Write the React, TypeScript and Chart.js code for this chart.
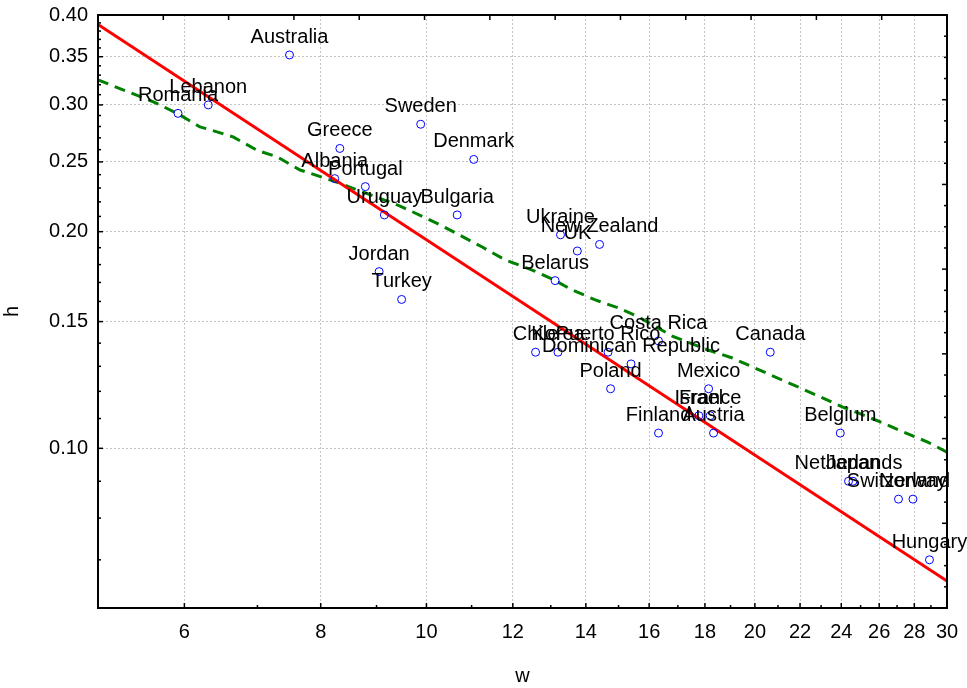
import React, { useEffect, useRef } from "react";
import { Chart, registerables } from "chart.js";

Chart.register(...registerables);

const countries = [
  "Romania", "Lebanon", "Australia", "Greece", "Albania", "Portugal", "Uruguay",
  "Sweden", "Denmark", "Bulgaria", "Jordan", "Turkey", "Ukraine", "UK",
  "New Zealand", "Belarus", "Chile", "Korea", "Puerto Rico", "Dominican Republic",
  "Costa Rica", "Poland", "Mexico", "Israel", "France", "Finland", "Austria",
  "Canada", "Belgium", "Netherlands", "Japan", "Switzerland", "Norway", "Hungary",
];
const wValues = [
  5.92, 6.31, 7.49, 8.33, 8.24, 8.79, 9.15,
  9.88, 11.05, 10.67, 9.05, 9.49, 13.27, 13.75,
  14.41, 13.12, 12.59, 13.2, 14.67, 15.4,
  16.32, 14.75, 18.14, 17.77, 18.2, 16.32, 18.33,
  20.66, 23.95, 24.37, 24.6, 27.08, 27.92, 28.91,
];
const hValues = [
  0.292, 0.300, 0.352, 0.261, 0.237, 0.231, 0.211,
  0.282, 0.252, 0.211, 0.176, 0.161, 0.198, 0.188,
  0.192, 0.171, 0.136, 0.136, 0.136, 0.131,
  0.141, 0.121, 0.121, 0.111, 0.111, 0.105, 0.105,
  0.136, 0.105, 0.090, 0.090, 0.085, 0.085, 0.070,
];

const fitW = [5, 30];
const fitH = [0.388, 0.0654];

const smoothW = [
  5.0, 5.62, 5.91, 6.2, 6.34, 6.65, 7.0, 7.3, 7.66, 8.22, 9.46, 10.3, 11.25, 11.81,
  12.5, 13.04, 13.6, 14.28, 14.99, 15.64, 16.8, 18.01, 19.07, 21.19, 22.01, 22.96,
  24.05, 24.87, 26.06, 27.35, 28.77, 30.0,
];
const smoothH = [
  0.325, 0.303, 0.292, 0.2796, 0.277, 0.2708, 0.2593, 0.254, 0.2436, 0.2352, 0.2171,
  0.2043, 0.1904, 0.1827, 0.1769, 0.1719, 0.166, 0.1608, 0.1567, 0.1523, 0.1432,
  0.1374, 0.1335, 0.1244, 0.1213, 0.1179, 0.1142, 0.112, 0.1088, 0.1054, 0.1021, 0.0988,
];

const xTickValues = [6, 8, 10, 12, 14, 16, 18, 20, 22, 24, 26, 28, 30];
const xMinorValues = [7, 9, 11, 13, 15, 17, 19, 21, 23, 25, 27, 29];
const yTickValues = [0.1, 0.15, 0.2, 0.25, 0.3, 0.35, 0.4];
const yMinorValues = [
  0.07, 0.08, 0.09, 0.11, 0.12, 0.13, 0.14, 0.16, 0.17, 0.18, 0.19, 0.21, 0.22, 0.23,
  0.24, 0.26, 0.27, 0.28, 0.29, 0.31, 0.32, 0.33, 0.34, 0.36, 0.37, 0.38, 0.39,
];
const topTickSteps = [1, 2, 3, 4, 5, 6, 7, 8, 9, 10, 11, 12];
const rightTickSteps = [
  1, 2, 3, 4, 5, 6, 7, 8, 9, 10, 11, 12, 13, 14, 15, 16, 17, 18, 19, 20, 21, 22, 23, 24,
  25, 26, 27,
];

const FONT = "'Liberation Sans', Arial, sans-serif";

const framePlugin = {
  id: "frameAndLabels",
  afterDatasetsDraw(chart: any) {
    const { ctx, chartArea: a, scales } = chart;
    ctx.save();
    ctx.strokeStyle = "#000";
    ctx.lineWidth = 1.5;
    const line = (x1: number, y1: number, x2: number, y2: number) => {
      ctx.beginPath();
      ctx.moveTo(x1, y1);
      ctx.lineTo(x2, y2);
      ctx.stroke();
    };
    xTickValues.forEach((v) => {
      const x = scales.x.getPixelForValue(v);
      line(x, a.bottom, x, a.bottom - 5);
    });
    xMinorValues.forEach((v) => {
      const x = scales.x.getPixelForValue(v);
      line(x, a.bottom, x, a.bottom - 3);
    });
    yTickValues.forEach((v) => {
      const y = scales.y.getPixelForValue(v);
      line(a.left, y, a.left + 5, y);
    });
    yMinorValues.forEach((v) => {
      const y = scales.y.getPixelForValue(v);
      line(a.left, y, a.left + 3, y);
    });
    topTickSteps.forEach((v) => {
      const x = scales.x2.getPixelForValue(v);
      line(x, a.top, x, a.top + 5);
    });
    rightTickSteps.forEach((v) => {
      const y = scales.y2.getPixelForValue(v);
      line(a.right, y, a.right - (v % 4 === 0 ? 5 : 3), y);
    });
    ctx.lineWidth = 2;
    ctx.strokeRect(a.left, a.top, a.right - a.left, a.bottom - a.top);

    ctx.fillStyle = "#000";
    ctx.font = `20px ${FONT}`;
    ctx.textAlign = "center";
    ctx.textBaseline = "alphabetic";
    countries.forEach((name, i) => {
      const x = scales.x.getPixelForValue(wValues[i]);
      const y = scales.y.getPixelForValue(hValues[i]);
      ctx.fillText(name, x, y - 12);
    });
    ctx.restore();
  },
};

export default function App() {
  const canvasRef = useRef<HTMLCanvasElement | null>(null);

  useEffect(() => {
    if (!canvasRef.current) return;
    Chart.defaults.font.family = FONT;
    const chart = new Chart(canvasRef.current, {
      type: "scatter",
      data: {
        datasets: [
          {
            type: "scatter",
            data: wValues.map((w, i) => ({ x: w, y: hValues[i] })),
            borderColor: "#0000ff",
            backgroundColor: "rgba(0,0,0,0)",
            borderWidth: 1,
            pointRadius: 4,
            pointHoverRadius: 4,
          },
          {
            type: "line",
            data: fitW.map((w, i) => ({ x: w, y: fitH[i] })),
            borderColor: "#ff0000",
            borderWidth: 3,
            pointRadius: 0,
            fill: false,
            tension: 0,
          },
          {
            type: "line",
            data: smoothW.map((w, i) => ({ x: w, y: smoothH[i] })),
            borderColor: "#008000",
            borderWidth: 3,
            borderDash: [11, 7],
            pointRadius: 0,
            fill: false,
            tension: 0,
          },
        ],
      } as any,
      options: {
        animation: false,
        responsive: true,
        maintainAspectRatio: false,
        layout: { padding: { left: 0, right: 20, top: 15, bottom: 0 } },
        plugins: {
          legend: { display: false },
          tooltip: { enabled: false },
        },
        scales: {
          x: {
            type: "logarithmic",
            position: "bottom",
            min: 5,
            max: 30,
            afterBuildTicks: (scale: any) => {
              scale.ticks = xTickValues.map((v) => ({ value: v }));
            },
            afterFit: (scale: any) => {
              scale.height = 80;
              scale.paddingLeft = 0;
              scale.paddingRight = 0;
            },
            ticks: {
              autoSkip: false,
              maxRotation: 0,
              padding: 12,
              color: "#000",
              font: { size: 20, family: FONT },
              callback: (v: any) => String(v),
            },
            grid: { color: "#c4c4c4", lineWidth: 1, drawTicks: false },
            border: { display: false, dash: [2, 2] },
            title: {
              display: true,
              text: "w",
              color: "#000",
              font: { size: 20, family: FONT },
              padding: { top: 0, bottom: 0 },
            },
          },
          y: {
            type: "logarithmic",
            position: "left",
            min: 0.06,
            max: 0.4,
            afterBuildTicks: (scale: any) => {
              scale.ticks = yTickValues.map((v) => ({ value: v }));
            },
            afterFit: (scale: any) => {
              scale.width = 98;
              scale.paddingTop = 0;
              scale.paddingBottom = 0;
            },
            ticks: {
              autoSkip: false,
              padding: 10,
              color: "#000",
              font: { size: 20, family: FONT },
              callback: (v: any) => Number(v).toFixed(2),
            },
            grid: { color: "#c4c4c4", lineWidth: 1, drawTicks: false },
            border: { display: false, dash: [2, 2] },
            title: {
              display: true,
              text: "h",
              color: "#000",
              font: { size: 20, family: FONT },
              padding: { top: 0, bottom: 0 },
            },
          },
          x2: {
            type: "linear",
            position: "top",
            display: false,
            min: 0,
            max: 13,
          },
          y2: {
            type: "linear",
            position: "right",
            display: false,
            min: 0,
            max: 28,
          },
        },
      } as any,
      plugins: [framePlugin],
    });
    return () => chart.destroy();
  }, []);

  return (
    <div style={{ position: "absolute", left: 0, top: 0, width: 967, height: 688, background: "#fff" }}>
      <canvas ref={canvasRef} />
    </div>
  );
}
